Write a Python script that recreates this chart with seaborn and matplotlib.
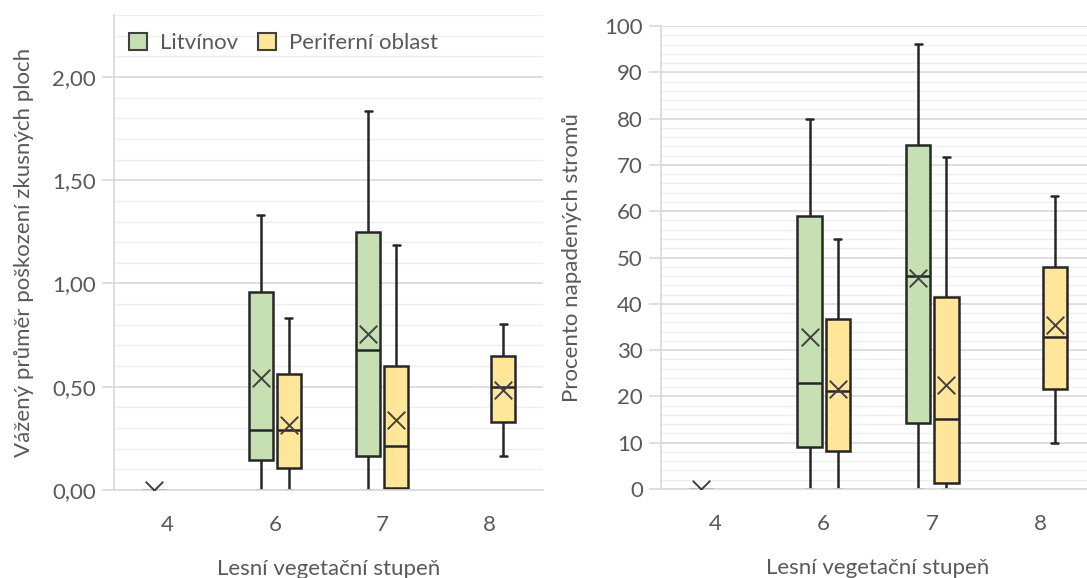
import numpy as np
import pandas as pd
import matplotlib
matplotlib.use("Agg")
import matplotlib.pyplot as plt
from matplotlib.patches import Patch
from matplotlib.ticker import MultipleLocator, FuncFormatter
import seaborn as sns

# ---------------- data ----------------
categories = ["4", "6", "7", "8"]
groups = ["Litvínov", "Periferní oblast"]
colors = {"Litvínov": "#C6E0B4", "Periferní oblast": "#FFE699"}

# Left: weighted mean damage of sample plots (None = no data)
dmg_lit_min = [0.00, 0.00, 0.00, None]
dmg_lit_q1 = [0.00, 0.146, 0.164, None]
dmg_lit_med = [0.00, 0.29, 0.68, None]
dmg_lit_q3 = [0.00, 0.96, 1.25, None]
dmg_lit_max = [0.00, 1.33, 1.835, None]
dmg_lit_mean = [0.00, 0.54, 0.755, None]

dmg_per_min = [None, 0.00, 0.00, 0.165]
dmg_per_q1 = [None, 0.105, 0.01, 0.328]
dmg_per_med = [None, 0.29, 0.212, 0.50]
dmg_per_q3 = [None, 0.56, 0.60, 0.649]
dmg_per_max = [None, 0.835, 1.185, 0.805]
dmg_per_mean = [None, 0.317, 0.338, 0.485]

# Right: percentage of attacked trees
pct_lit_min = [0, 0, 0, None]
pct_lit_q1 = [0, 9.1, 14.2, None]
pct_lit_med = [0, 22.9, 45.9, None]
pct_lit_q3 = [0, 58.9, 74.4, None]
pct_lit_max = [0, 80.0, 96.1, None]
pct_lit_mean = [0, 32.9, 45.5, None]

pct_per_min = [None, 0, 0, 9.9]
pct_per_q1 = [None, 8.3, 1.3, 21.7]
pct_per_med = [None, 21.2, 15.2, 32.9]
pct_per_q3 = [None, 36.8, 41.5, 48.0]
pct_per_max = [None, 54.1, 71.8, 63.2]
pct_per_mean = [None, 21.6, 22.5, 35.5]

ylabel_left = "Vážený průměr poškození zkusných ploch"
ylabel_right = "Procento napadených stromů"
xlabel = "Lesní vegetační stupeň"


def long_table(summaries):
    rows = []
    for group, stats in summaries.items():
        for i, cat in enumerate(categories):
            vals = [s[i] for s in stats]
            if vals[0] is None:
                continue
            for v in vals:
                rows.append({"cat": cat, "group": group, "value": v})
    return pd.DataFrame(rows)


df_left = long_table({
    "Litvínov": [dmg_lit_min, dmg_lit_q1, dmg_lit_med, dmg_lit_q3, dmg_lit_max],
    "Periferní oblast": [dmg_per_min, dmg_per_q1, dmg_per_med, dmg_per_q3, dmg_per_max],
})
df_right = long_table({
    "Litvínov": [pct_lit_min, pct_lit_q1, pct_lit_med, pct_lit_q3, pct_lit_max],
    "Periferní oblast": [pct_per_min, pct_per_q1, pct_per_med, pct_per_q3, pct_per_max],
})

# ---------------- style ----------------
sns.set_style("white")
plt.rcParams["font.family"] = ["Lato", "DejaVu Sans"]
TXT = "#595959"
GRID_MAJ = "#D9D9D9"
GRID_MIN = "#EEEEEE"
EDGE = "#262626"
W = 0.523
GAP = 0.145
FS = 16

fig = plt.figure(figsize=(10.87, 5.78), dpi=100)
axL = fig.add_axes([114 / 1087, 1 - 490 / 578, 429 / 1087, 475 / 578])
axR = fig.add_axes([661 / 1087, 1 - 489 / 578, 434 / 1087, 463 / 578])


def draw(ax, df, means, ylim, major, minor, fmt, ylabel, ylabelpad):
    sns.boxplot(data=df, x="cat", y="value", hue="group", order=categories,
                hue_order=groups, palette=colors, saturation=1, width=W, gap=GAP,
                whis=np.inf, linewidth=1.8, linecolor=EDGE, showfliers=False,
                dodge=True, legend=False, ax=ax, capwidths=0.065)
    for gi, g in enumerate(groups):
        offset = (gi - 0.5) * W / 2
        xs = [i + offset for i, m in enumerate(means[g]) if m is not None]
        ys = [m for m in means[g] if m is not None]
        ax.scatter(xs, ys, marker="x", s=160, color="#404040", linewidths=1.4, zorder=5)
    ax.set_xlim(-0.5, 3.5)
    ax.set_ylim(*ylim)
    ax.yaxis.set_major_locator(MultipleLocator(major))
    ax.yaxis.set_minor_locator(MultipleLocator(minor))
    ax.yaxis.set_major_formatter(FuncFormatter(fmt))
    ax.grid(axis="y", which="major", color=GRID_MAJ, lw=1.2, zorder=0)
    ax.grid(axis="y", which="minor", color=GRID_MIN, lw=1.0, zorder=0)
    ax.set_axisbelow(True)
    for s in ["top", "right"]:
        ax.spines[s].set_visible(False)
    for s in ["left", "bottom"]:
        ax.spines[s].set_color(GRID_MAJ)
        ax.spines[s].set_linewidth(1.2)
    ax.tick_params(axis="y", which="major", length=9, width=1.2, color=GRID_MAJ,
                   labelsize=FS, labelcolor=TXT, pad=4, left=True)
    ax.tick_params(axis="y", which="minor", length=0)
    ax.tick_params(axis="x", length=0, labelsize=FS, labelcolor=TXT, pad=18)
    ax.set_xlabel(xlabel, fontsize=FS, color=TXT, labelpad=17)
    ax.set_ylabel(ylabel, fontsize=FS, color=TXT, labelpad=ylabelpad)


draw(axL, df_left, {"Litvínov": dmg_lit_mean, "Periferní oblast": dmg_per_mean},
     (0, 2.3), 0.5, 0.1, lambda v, p: f"{v:.2f}".replace(".", ","), ylabel_left, 13)
draw(axR, df_right, {"Litvínov": pct_lit_mean, "Periferní oblast": pct_per_mean},
     (0, 100), 10, 2, lambda v, p: f"{v:.0f}", ylabel_right, 16)

handles = [Patch(facecolor=colors[g], edgecolor="#404040", linewidth=1.5, label=g)
           for g in groups]
axL.legend(handles=handles, loc="upper left", bbox_to_anchor=(0.035, 0.962),
           frameon=False, ncol=2, handlelength=0.8, handleheight=0.8,
           handletextpad=0.6, columnspacing=0.9, borderaxespad=0, borderpad=0,
           fontsize=FS, labelcolor=TXT)

fig.savefig("out.png", dpi=100)
